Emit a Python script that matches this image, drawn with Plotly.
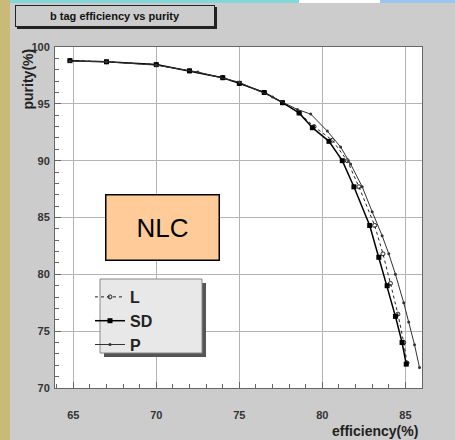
import plotly.graph_objects as go

# ---- data ----
sd_eff = [64.8, 67.0, 70.0, 72.0, 74.0, 75.0, 76.5, 77.6, 78.6, 79.4, 80.4, 81.2, 81.9, 82.85, 83.4, 83.9, 84.4, 84.8, 85.05]
sd_pur = [98.8, 98.7, 98.45, 97.9, 97.3, 96.8, 96.0, 95.1, 94.2, 92.9, 91.7, 90.0, 87.7, 84.3, 81.5, 79.0, 76.3, 74.0, 72.1]

l_eff = [64.8, 67.0, 70.0, 72.0, 74.0, 75.0, 76.5, 77.6, 78.6, 79.5, 80.6, 81.5, 82.2, 83.15, 83.65, 84.1, 84.55, 84.9, 85.1]
l_pur = [98.8, 98.7, 98.45, 97.9, 97.3, 96.8, 96.0, 95.1, 94.2, 93.0, 91.8, 90.0, 87.7, 84.3, 81.8, 79.2, 76.5, 74.0, 72.2]

p_eff = [64.8, 67.0, 70.0, 72.5, 75.0, 77.0, 78.5, 79.3, 80.3, 81.1, 81.7, 82.4, 83.0, 83.6, 84.0, 84.4, 84.9, 85.2, 85.55, 85.85]
p_pur = [98.75, 98.7, 98.4, 97.8, 96.9, 95.6, 94.5, 94.1, 92.6, 91.2, 89.7, 87.7, 85.5, 83.4, 81.8, 80.0, 77.5, 75.8, 73.8, 71.8]

x_ticks = [65, 70, 75, 80, 85]
y_ticks = [70, 75, 80, 85, 90, 95, 100]

BG = "#cccccc"
W, H = 455, 440
L, R, T, B = 55, 422, 47, 388


def px(xp):
    return (xp - L) / (R - L)


def py(yp):
    return (B - yp) / (B - T)


fig = go.Figure()
fig.add_trace(go.Scatter(x=l_eff, y=l_pur, name="L", mode="lines+markers",
                         line=dict(color="#222222", width=1, dash="dot"),
                         marker=dict(symbol="circle-open", size=4, color="#222222")))
fig.add_trace(go.Scatter(x=sd_eff, y=sd_pur, name="SD", mode="lines+markers",
                         line=dict(color="black", width=1.5),
                         marker=dict(symbol="square", size=5, color="black")))
fig.add_trace(go.Scatter(x=p_eff, y=p_pur, name="P", mode="lines+markers",
                         line=dict(color="#333333", width=1),
                         marker=dict(symbol="circle", size=3, color="#333333")))

axis_font = dict(family="Liberation Sans, Arial", size=11, color="#333333", weight="bold")

fig.update_xaxes(range=[63.9, 86.0], tickvals=x_ticks, showgrid=True, gridcolor="#b4b4b4", gridwidth=1,
                 zeroline=False, showline=True, linecolor="#666666", linewidth=1, mirror=True,
                 ticks="inside", ticklen=6, tickcolor="#666666",
                 minor=dict(ticks="inside", ticklen=4, dtick=1, tickcolor="#666666", showgrid=False),
                 tickfont=axis_font, ticklabelstandoff=17)
fig.update_yaxes(range=[70.0, 100.0], tickvals=y_ticks, showgrid=True, gridcolor="#b4b4b4", gridwidth=1,
                 zeroline=False, showline=True, linecolor="#666666", linewidth=1, mirror=True,
                 ticks="inside", ticklen=6, tickcolor="#666666",
                 minor=dict(ticks="inside", ticklen=4, dtick=1, tickcolor="#666666", showgrid=False),
                 tickfont=axis_font, ticklabelstandoff=2)

shapes = [
    # left slide-background strip
    dict(type="rect", xref="paper", yref="paper", x0=px(0), x1=px(10), y0=py(440), y1=py(0),
         fillcolor="#c8bb78", line=dict(width=0), layer="below"),
    # top strips
    dict(type="rect", xref="paper", yref="paper", x0=px(10), x1=px(299), y0=py(3), y1=py(0),
         fillcolor="#80d8d8", line=dict(width=0), layer="below"),
    dict(type="rect", xref="paper", yref="paper", x0=px(299), x1=px(380), y0=py(3), y1=py(0),
         fillcolor="#ffffff", line=dict(width=0), layer="below"),
    dict(type="rect", xref="paper", yref="paper", x0=px(380), x1=px(455), y0=py(3), y1=py(0),
         fillcolor="#9cc4ee", line=dict(width=0), layer="below"),
    # title box shadow
    dict(type="rect", xref="paper", yref="paper", x0=px(17), x1=px(217), y0=py(29), y1=py(7),
         fillcolor="#222222", line=dict(width=0)),
    # legend shadow + box
    dict(type="rect", xref="paper", yref="paper", x0=px(104), x1=px(206), y0=py(357), y1=py(283),
         fillcolor="#555555", line=dict(width=0)),
    dict(type="rect", xref="paper", yref="paper", x0=px(100), x1=px(202), y0=py(353), y1=py(279),
         fillcolor="#e8e8e8", line=dict(width=1, color="#888888")),
]

annotations = [
    dict(text="<b>b tag efficiency vs purity</b>", xref="paper", yref="paper", x=px(115), y=py(16),
         xanchor="center", yanchor="middle", showarrow=False, width=196, height=18,
         bgcolor=BG, bordercolor="#222222", borderwidth=1, borderpad=1,
         font=dict(family="Liberation Sans, Arial", size=11, color="#111111")),
    dict(text="NLC", xref="paper", yref="paper", x=px(162), y=py(227), xanchor="center", yanchor="middle",
         showarrow=False, width=110, height=62, bgcolor="#ffcc99", bordercolor="black", borderwidth=1.5,
         font=dict(family="Liberation Sans, Arial", size=26, color="black")),
    dict(text="<b>efficiency(%)</b>", xref="paper", yref="paper", x=px(420), y=py(431),
         xanchor="right", yanchor="middle", showarrow=False,
         font=dict(family="Liberation Sans, Arial", size=14, color="#222222")),
    dict(text="<b>purity(%)</b>", xref="paper", yref="paper", x=px(27), y=py(47),
         xanchor="center", yanchor="top", showarrow=False, textangle=-90,
         font=dict(family="Liberation Sans, Arial", size=14, color="#222222")),
]

fig.update_layout(
    width=W, height=H,
    margin=dict(l=L, r=W - R, t=T, b=H - B),
    paper_bgcolor=BG, plot_bgcolor="white",
    showlegend=True,
    legend=dict(x=px(90), y=py(280), xanchor="left", yanchor="top",
                bgcolor="rgba(0,0,0,0)", borderwidth=0,
                font=dict(family="Liberation Sans, Arial", size=16, color="#222222", weight="bold"),
                itemwidth=30, tracegroupgap=0),
    shapes=shapes,
    annotations=annotations,
)

fig.write_html("out.html", config={"displayModeBar": False},
               post_script="document.body.style.margin='0px';")
